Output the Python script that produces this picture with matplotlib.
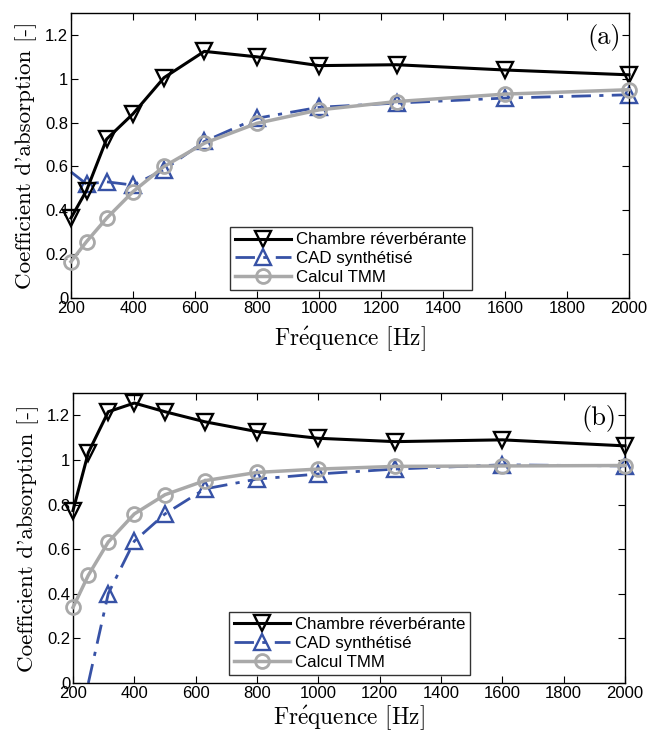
import numpy as np
import matplotlib
matplotlib.use('Agg')
import matplotlib.pyplot as plt

plt.rcParams['mathtext.fontset'] = 'cm'
plt.rcParams['axes.unicode_minus'] = False

freq = [200, 250, 315, 400, 500, 630, 800, 1000, 1250, 1600, 2000]

# (a)
cham_a = [0.365, 0.49, 0.725, 0.84, 1.005, 1.125, 1.10, 1.06, 1.064, 1.04, 1.018]
cad_a = [0.575, 0.52, 0.53, 0.515, 0.585, 0.714, 0.82, 0.87, 0.889, 0.912, 0.927]
tmm_a = [0.166, 0.257, 0.364, 0.485, 0.60, 0.706, 0.797, 0.858, 0.896, 0.93, 0.95]
cad_a_marks = slice(1, None)   # no marker at 200 Hz

# (b)
cham_b = [0.773, 1.033, 1.216, 1.255, 1.216, 1.171, 1.127, 1.097, 1.082, 1.09, 1.063]
cad_b = [None, 0.0, 0.401, 0.636, 0.758, 0.87, 0.914, 0.937, 0.959, 0.978, 0.973]
tmm_b = [0.339, 0.483, 0.632, 0.758, 0.844, 0.907, 0.944, 0.959, 0.971, 0.973, 0.975]
cad_b_marks = slice(2, None)   # curve starts at 250 Hz, markers from 315 Hz

labels = ['Chambre réverbérante', 'CAD synthétisé', 'Calcul TMM']
xticks = np.arange(200, 2001, 200)
yticks = [0, 0.2, 0.4, 0.6, 0.8, 1, 1.2]
ytick_labels = ['0', '0.2', '0.4', '0.6', '0.8', '1', '1.2']

blue = '#3752a6'
gray = '#a9a9a9'
tick_font = 'Liberation Sans'
label_font = 'cmr10'
dashdot = (0, (7, 3, 1.5, 3))


def draw(ax, cham, cad, tmm, marks, tag, leg_box, xpad):
    f = np.array(freq, dtype=float)
    cad = np.array([np.nan if v is None else v for v in cad])
    ax.plot(f, cham, color='k', lw=2.2, marker='v', ms=11, mfc='none',
            mew=1.7, clip_on=False, zorder=3)
    ax.plot(f, cad, color=blue, lw=2.0, ls=dashdot, clip_on=False, zorder=2)
    ax.plot(f[marks], cad[marks], color=blue, lw=0, marker='^', ms=11,
            mfc='none', mew=1.7, clip_on=False, zorder=2)
    ax.plot(f, tmm, color=gray, lw=2.5, marker='o', ms=10, mfc='none',
            mew=2.0, clip_on=False, zorder=4)

    # legend proxies
    h1 = plt.Line2D([], [], color='k', lw=2.2, marker='v', ms=11, mfc='none', mew=1.7)
    h2 = plt.Line2D([], [], color=blue, lw=2.0, ls=dashdot, marker='^',
                    ms=11, mfc='none', mew=1.7)
    h3 = plt.Line2D([], [], color=gray, lw=2.5, marker='o', ms=10, mfc='none', mew=2.0)
    leg = ax.legend([h1, h2, h3], labels, loc='lower left', bbox_to_anchor=leg_box,
                    prop={'family': tick_font, 'size': 12.2}, frameon=True,
                    fancybox=False, edgecolor='k', borderpad=0.3, labelspacing=0.22,
                    handlelength=3.3, handletextpad=0.3, borderaxespad=0)
    leg.get_frame().set_linewidth(1.0)

    ax.set_xlim(200, 2000)
    ax.set_ylim(0, 1.3)
    ax.set_xticks(xticks)
    ax.set_yticks(yticks)
    ax.set_yticklabels(ytick_labels)
    ax.tick_params(direction='in', top=True, right=True, length=5, width=0.8,
                   labelsize=12, pad=2)
    for t in ax.get_xticklabels() + ax.get_yticklabels():
        t.set_fontfamily(tick_font)
    for s in ax.spines.values():
        s.set_linewidth(1.0)
    ax.set_xlabel('Fr$\\mathrm{\\acute{e}}$quence [Hz]', family=label_font,
                  fontsize=16.8, labelpad=xpad)
    ax.set_ylabel("Coefficient d'absorption [-]", family=label_font,
                  fontsize=16.6, labelpad=6)
    ax.text(0.985, 0.96, tag, transform=ax.transAxes, ha='right', va='top',
            family=label_font, fontsize=19)


fig = plt.figure(figsize=(6.47, 7.33), dpi=100)
ax1 = fig.add_axes([71 / 647, 1 - 298 / 733, (629 - 71) / 647, (298 - 13) / 733])
ax2 = fig.add_axes([73 / 647, 1 - 683 / 733, (625 - 73) / 647, (683 - 393) / 733])

draw(ax1, cham_a, cad_a, tmm_a, cad_a_marks, '(a)', (0.285, 0.028), 6)
draw(ax2, cham_b, cad_b, tmm_b, cad_b_marks, '(b)', (0.282, 0.028), 2)

fig.savefig('out.png', dpi=100)
